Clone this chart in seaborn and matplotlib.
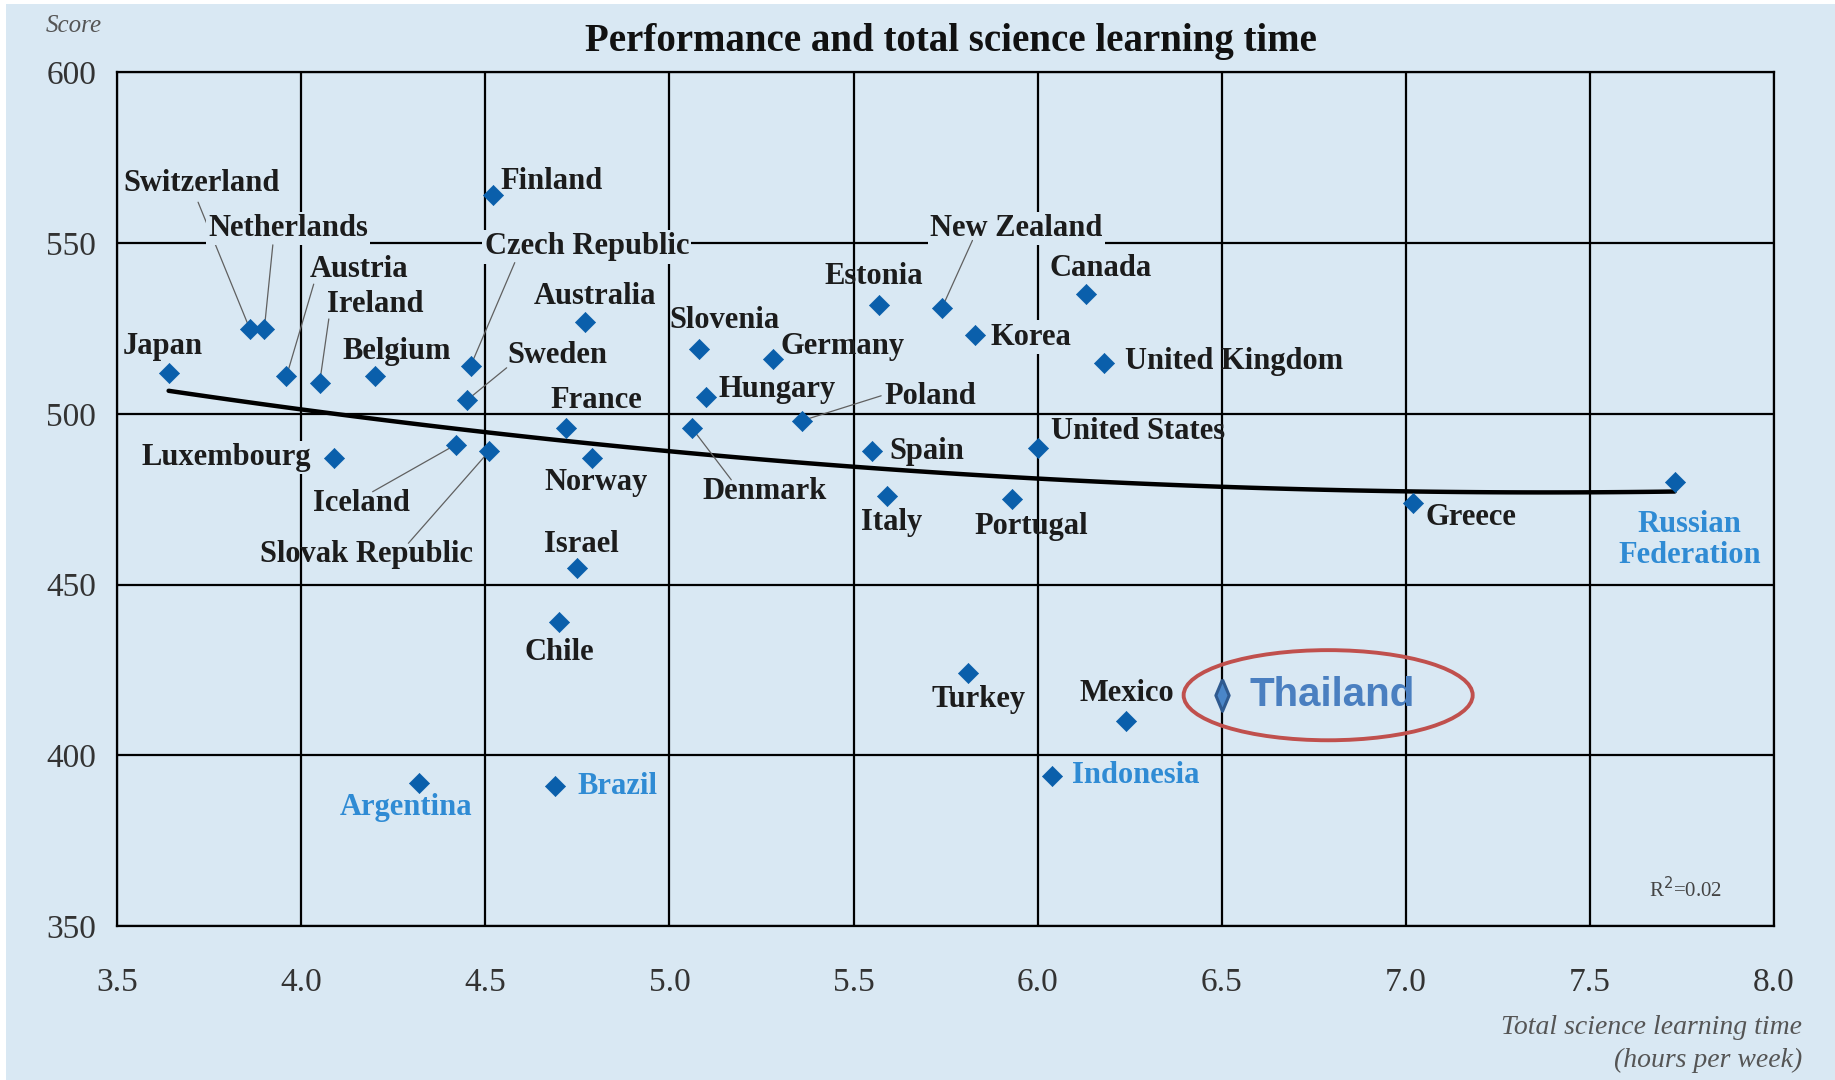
import matplotlib
matplotlib.use("Agg")
import matplotlib.pyplot as plt
import seaborn as sns
import pandas as pd
from matplotlib.patches import Ellipse, Rectangle

# ---------------- data ----------------
countries = ["Japan", "Switzerland", "Netherlands", "Austria", "Ireland", "Belgium",
             "Luxembourg", "Czech Republic", "Sweden", "Iceland", "Slovak Republic",
             "Finland", "Australia", "France", "Norway", "Israel", "Chile", "Argentina",
             "Brazil", "Slovenia", "Germany", "Hungary", "Denmark", "Poland", "Estonia",
             "New Zealand", "Korea", "Canada", "United Kingdom", "Spain", "United States",
             "Italy", "Portugal", "Turkey", "Mexico", "Indonesia", "Greece",
             "Russian Federation"]
hours = [3.64, 3.86, 3.90, 3.96, 4.05, 4.20, 4.09, 4.46, 4.45, 4.42, 4.51,
         4.52, 4.77, 4.72, 4.79, 4.75, 4.70, 4.32, 4.69, 5.08, 5.28, 5.10,
         5.06, 5.36, 5.57, 5.74, 5.83, 6.13, 6.18, 5.55, 6.00, 5.59, 5.93,
         5.81, 6.24, 6.04, 7.02, 7.73]
scores = [512, 525, 525, 511, 509, 511, 487, 514, 504, 491, 489,
          564, 527, 496, 487, 455, 439, 392, 391, 519, 516, 505,
          496, 498, 532, 531, 523, 535, 515, 489, 490, 476, 475,
          424, 410, 394, 474, 480]
partner_countries = ["Argentina", "Brazil", "Indonesia", "Russian Federation"]

highlight_country = "Thailand"
highlight_hours = [6.50]
highlight_score = [417.6]

x_ticks = [3.5, 4.0, 4.5, 5.0, 5.5, 6.0, 6.5, 7.0, 7.5, 8.0]
y_ticks = [350, 400, 450, 500, 550, 600]
title = "Performance and total science learning time"
y_label = "Score"
x_label = "Total science learning time\n(hours per week)"
r2_text = "R$^2$=0.02"

# ---------------- layout of labels (x, y, ha, masked, leader start) ----------------
label_layout = {
    "Switzerland": (3.516, 567.4, "left", False, (3.72, 562.0)),
    "Netherlands": (3.748, 554.4, "left", True, (3.923, 549.5)),
    "Austria": (4.024, 542.4, "left", False, (4.034, 538.0)),
    "Ireland": (4.069, 532.1, "left", False, (4.075, 527.8)),
    "Japan": (3.516, 519.8, "left", False, None),
    "Belgium": (4.113, 518.4, "left", False, None),
    "Finland": (4.542, 568.1, "left", False, None),
    "Czech Republic": (4.498, 548.9, "left", True, (4.58, 544.3)),
    "Australia": (4.631, 534.5, "left", False, None),
    "Sweden": (4.561, 517.0, "left", False, (4.558, 513.5)),
    "France": (4.676, 504.0, "left", False, None),
    "Luxembourg": (3.567, 487.2, "left", True, None),
    "Iceland": (4.031, 473.8, "left", False, (4.194, 477.2)),
    "Slovak Republic": (3.888, 458.7, "left", False, (4.291, 462.1)),
    "Norway": (4.66, 480.0, "left", False, None),
    "Israel": (4.66, 461.8, "left", False, None),
    "Chile": (4.606, 430.2, "left", False, None),
    "Argentina": (4.104, 384.6, "left", False, None),
    "Brazil": (4.749, 390.8, "left", False, None),
    "Slovenia": (5.0, 527.3, "left", False, None),
    "Germany": (5.302, 519.8, "left", False, None),
    "Hungary": (5.133, 507.1, "left", False, None),
    "Poland": (5.585, 505.0, "left", False, (5.575, 505.3)),
    "Denmark": (5.089, 477.2, "left", False, (5.168, 480.7)),
    "Estonia": (5.422, 540.3, "left", False, None),
    "New Zealand": (5.709, 554.4, "left", True, (5.823, 550.8)),
    "Canada": (6.033, 542.7, "left", False, None),
    "Korea": (5.871, 522.5, "left", True, None),
    "United Kingdom": (6.236, 515.3, "left", False, None),
    "Spain": (5.597, 488.9, "left", False, None),
    "United States": (6.036, 494.7, "left", False, None),
    "Italy": (5.521, 468.3, "left", False, None),
    "Portugal": (5.829, 466.9, "left", False, None),
    "Greece": (7.053, 469.7, "left", False, None),
    "Russian Federation": (7.771, 463.0, "center", False, None),
    "Turkey": (5.712, 416.2, "left", False, None),
    "Mexico": (6.115, 418.2, "left", False, None),
    "Indonesia": (6.093, 394.2, "left", False, None),
}

BG = "#d9e8f3"
MARK = "#0a5fab"
PARTNER = "#2f8bd4"
LABEL_FONT = ["Liberation Serif", "DejaVu Serif"]

df = pd.DataFrame({"country": countries, "hours": hours, "score": scores})
hl = pd.DataFrame({"country": [highlight_country], "hours": highlight_hours,
                   "score": highlight_score})

sns.set_style("white")
plt.rcParams["font.family"] = LABEL_FONT

fig = plt.figure(figsize=(18.35, 10.8), dpi=100)
fig.patch.set_facecolor("white")
fig.patches.append(Rectangle((0.003, 0.0), 0.997, 0.996, transform=fig.transFigure,
                             facecolor=BG, edgecolor="none", zorder=-10))
ax = fig.add_axes([0.0638, 0.1426, 0.9030, 0.7903])
ax.set_facecolor(BG)

# trend line (quadratic fit computed by seaborn)
sns.regplot(data=df, x="hours", y="score", order=2, ci=None, scatter=False,
            truncate=True, ax=ax, line_kws=dict(color="black", lw=3.2, zorder=3))

sns.scatterplot(data=df, x="hours", y="score", marker="D", s=105, color=MARK,
                edgecolor=MARK, linewidth=0.5, ax=ax, zorder=5)

thin_diamond = [(0, 1), (0.42, 0), (0, -1), (-0.42, 0), (0, 1)]
sns.scatterplot(data=hl, x="hours", y="score", marker=thin_diamond, s=520,
                color="#4a86c8", edgecolor="#2f5a8f", linewidth=2.2, ax=ax, zorder=6)

# labels
for name, (lx, ly, ha, masked, leader) in label_layout.items():
    row = df[df.country == name].iloc[0]
    color = PARTNER if name in partner_countries else "#1c1c1c"
    text = "Russian\nFederation" if name == "Russian Federation" else name
    kw = {}
    if masked:
        kw["bbox"] = dict(facecolor=BG, edgecolor="none", pad=1.5)
    ax.text(lx, ly, text, ha=ha, va="center", fontsize=22, fontweight="bold",
            color=color, zorder=4, linespacing=1.1, **kw)
    if leader is not None:
        ax.plot([leader[0], row.hours], [leader[1], row.score], color="#606060",
                lw=0.9, zorder=4)

# Thailand highlight
ax.text(6.576, highlight_score[0], highlight_country, ha="left", va="center",
        fontsize=29, fontweight="bold", color="#4a7fc0",
        family=["Liberation Sans", "DejaVu Sans"], zorder=6)
ax.add_patch(Ellipse((6.789, 417.6), 0.785, 26.4, facecolor="none",
                     edgecolor="#c0504d", lw=2.8, zorder=6))

# axes styling
ax.set_xlim(3.5, 8.0)
ax.set_ylim(350, 600)
ax.set_xticks(x_ticks)
ax.set_yticks(y_ticks)
ax.set_xticklabels([f"{v:.1f}" for v in x_ticks])
ax.set_yticklabels([str(v) for v in y_ticks])
ax.grid(True, color="black", lw=1.6)
ax.set_axisbelow(True)
for sp in ax.spines.values():
    sp.set_visible(True)
    sp.set_color("black")
    sp.set_linewidth(1.6)
ax.tick_params(axis="x", direction="out", length=22, width=1.6, color="black",
               labelsize=24, labelcolor="#333333", pad=8)
ax.tick_params(axis="y", direction="out", length=3, width=1.6, color="black",
               labelsize=24, labelcolor="#333333", pad=12)
ax.set_xlabel("")
ax.set_ylabel("")

fig.text(0.518, 0.962, title, ha="center", va="center", fontsize=28,
         fontweight="bold", color="#111111")
fig.text(0.040, 0.976, y_label, ha="center", va="center", fontsize=18,
         style="italic", color="#555555")
fig.text(0.982, 0.033, x_label, ha="right", va="center", fontsize=20,
         style="italic", color="#555555", linespacing=1.4)
ax.text(7.86, 357, r2_text, ha="right", va="bottom", fontsize=15, color="#444444")

fig.savefig("out.png", dpi=100, facecolor=fig.get_facecolor())
